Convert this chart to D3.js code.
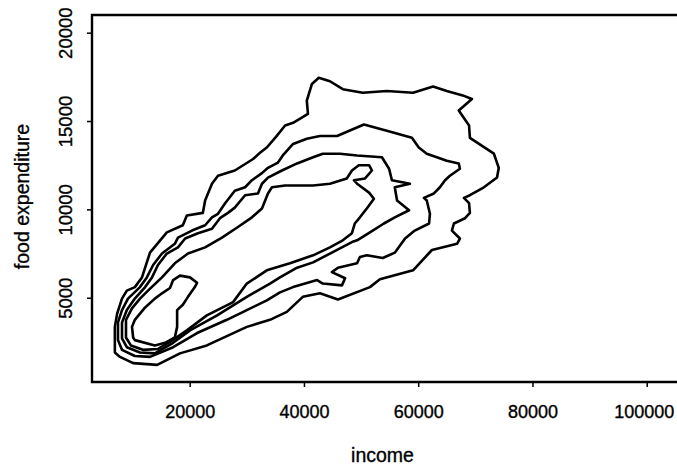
<!DOCTYPE html>
<html>
<head>
<meta charset="utf-8">
<script src="https://cdn.jsdelivr.net/npm/d3@7"></script>
<style>
  body { margin: 0; background: #fff; }
  text { font-family: "Liberation Sans", Arial, sans-serif; fill: #000; stroke: #000; stroke-width: 0.35px; }
</style>
</head>
<body>
<div id="vis"></div>
<script>
// axis ticks
var incomeTicks = [20000, 40000, 60000, 80000, 100000];
var foodTicks = [5000, 10000, 15000, 20000];

// contour lines, [income, food expenditure], outermost first
var contour1 = [[6900,1900],[6900,3350],[7300,4100],[8150,4950],[9000,5400],[10400,5600],[11650,6150],[13050,7550],[16000,8700],[18800,9100],[19500,9650],[22300,9800],[22700,10500],[23900,11450],[24950,11900],[27900,12200],[31100,12850],[32300,13200],[33500,13500],[35100,14100],[36700,14750],[38100,14900],[40700,15400],[40500,16150],[41400,17100],[42600,17450],[44550,17250],[46800,16800],[50300,16600],[54500,16700],[59100,16600],[62600,16950],[65000,16700],[67800,16450],[69400,16250],[67100,15600],[68900,14750],[69050,14050],[73250,13150],[74100,12350],[73800,11800],[71500,11250],[69050,10800],[68000,10650],[68900,10350],[69050,9800],[68200,9500],[66250,9200],[65900,8800],[67300,8350],[66800,8050],[62400,7700],[59100,6550],[53300,6050],[51550,5600],[45950,4900],[42800,5250],[39800,5050],[37000,4200],[34050,3750],[30000,3350],[23000,2300],[18300,1850],[14300,1200],[10100,1300],[7800,1650]];

var contour2 = [[7450,2600],[7450,3600],[8150,4300],[9200,4950],[11300,5600],[12500,6150],[13600,6850],[15150,7500],[17400,8050],[17950,8400],[20400,8800],[22700,9100],[23900,9550],[24950,9750],[26200,10350],[27900,11050],[29700,11250],[30900,11650],[32650,12050],[33700,12350],[35450,12650],[36300,13050],[38100,13700],[40500,14000],[42800,14150],[45800,14150],[50500,14800],[54500,14450],[58900,14050],[60100,13500],[61500,13150],[65000,12750],[67100,12600],[67300,12300],[65550,11900],[64700,11650],[63800,11250],[62750,10900],[61000,10650],[61500,10500],[62050,9750],[61900,9200],[59400,8800],[57700,8350],[55900,7550],[53800,7250],[51000,7400],[49800,7300],[49300,6950],[45950,6700],[44900,6450],[47200,6100],[46650,5700],[43300,5800],[42300,6000],[40200,5800],[38100,5600],[35800,5300],[33500,4850],[30000,4300],[26500,3750],[21300,3000],[17100,2200],[13050,1650],[10400,1700],[8150,2050]];

var contour3 = [[8150,2700],[8150,3600],[9000,4300],[10400,4950],[12200,5600],[13400,6150],[14450,6850],[16000,7500],[17950,7850],[19200,8350],[21450,8650],[23900,8900],[25300,9500],[26700,9800],[27900,10100],[29700,10800],[31950,10900],[32650,11450],[33700,11800],[36150,12200],[38800,12600],[41600,12950],[43300,13150],[46300,13150],[49300,13050],[53650,12950],[54900,12300],[55400,11650],[58550,11450],[55900,11250],[56300,10500],[58400,9950],[55900,9550],[54000,9200],[51550,8700],[49300,8250],[48400,8150],[44550,7500],[41600,7000],[38800,6700],[35800,6150],[34050,5800],[30000,5050],[24800,4000],[20050,3150],[17100,2450],[13900,1850],[11300,1900],[9000,2200]];

var contour4 = [[8850,2750],[8850,3750],[9900,4400],[11300,4950],[12700,5400],[15150,6150],[17400,6950],[19700,7500],[22700,7850],[25650,8400],[28450,9000],[30900,9550],[32650,10050],[33700,10900],[34400,11250],[36700,11350],[41600,11350],[44550,11450],[47500,11750],[48400,12200],[49600,12500],[51400,12500],[51900,12200],[50700,11750],[48750,11650],[49300,11450],[51400,10950],[52250,10600],[51000,10050],[49800,9550],[48900,9200],[48400,8650],[46800,8250],[44550,7850],[41600,7400],[37550,6950],[33500,6550],[30000,5800],[27600,4750],[23000,4000],[19500,3150],[16550,2500],[14450,2100],[11800,2050],[9700,2300]];

var contour5 = [[10400,2600],[13900,2300],[15700,2450],[17400,2750],[17800,3350],[17800,4300],[18800,4600],[19700,5050],[20900,5600],[21300,5850],[20050,6150],[18300,6250],[17100,6000],[16550,5550],[15150,5250],[13900,4950],[12200,4450],[10400,3750],[9900,3350],[10100,2750]];

var contours = [contour1, contour2, contour3, contour4, contour5];

var W = 677, H = 466;
var plotLeft = 92, plotTop = 15, plotBottom = 382, plotRight = 681;

var svg = d3.select("#vis").append("svg")
    .attr("width", W)
    .attr("height", H);

var x = d3.scaleLinear().domain([2900, 106000]).range([plotLeft, plotRight]);
var y = d3.scaleLinear().domain([230, 21000]).range([plotBottom, plotTop]);

// frame (right side is cut off in the picture)
svg.append("path")
    .attr("d", "M" + plotRight + "," + plotTop + "H" + plotLeft + "V" + plotBottom + "H" + plotRight)
    .attr("fill", "none")
    .attr("stroke", "#000")
    .attr("stroke-width", 2.4);

// x axis
var xAxis = svg.append("g")
    .attr("transform", "translate(0," + plotBottom + ")")
    .call(d3.axisBottom(x).tickValues(incomeTicks).tickSize(5).tickPadding(18).tickFormat(d3.format("d")));
xAxis.select(".domain").remove();
xAxis.selectAll("line").attr("stroke", "#000").attr("stroke-width", 1.5);
xAxis.selectAll("text").style("font-size", "18px").attr("fill", "#000");
// last label sits a little left of its tick, as in the original
xAxis.selectAll("text").filter(function (d) { return d === 100000; }).attr("x", -3);

// y axis, labels turned sideways
var yAxis = svg.append("g")
    .attr("transform", "translate(" + plotLeft + ",0)")
    .call(d3.axisLeft(y).tickValues(foodTicks).tickSize(5).tickFormat(d3.format("d")));
yAxis.select(".domain").remove();
yAxis.selectAll("line").attr("stroke", "#000").attr("stroke-width", 1.5);
yAxis.selectAll("text")
    .attr("transform", "rotate(-90)")
    .attr("x", 0)
    .attr("y", -20)
    .attr("dy", 0)
    .style("text-anchor", "middle")
    .style("font-size", "18.5px")
    .attr("fill", "#000");

// axis titles
svg.append("text")
    .attr("x", (plotLeft + 677) / 2 - 2)
    .attr("y", 462)
    .attr("text-anchor", "middle")
    .style("font-size", "19.5px")
    .text("income");

svg.append("text")
    .attr("transform", "translate(29," + ((plotTop + plotBottom) / 2 - 2) + ") rotate(-90)")
    .attr("text-anchor", "middle")
    .style("font-size", "19.5px")
    .text("food expenditure");

// contours
var line = d3.line()
    .x(function (d) { return x(d[0]); })
    .y(function (d) { return y(d[1]); })
    .curve(d3.curveLinearClosed);

svg.append("g")
    .selectAll("path")
    .data(contours)
    .enter()
    .append("path")
    .attr("d", line)
    .attr("fill", "none")
    .attr("stroke", "#000")
    .attr("stroke-width", 2.6)
    .attr("stroke-linejoin", "round");
</script>
</body>
</html>
